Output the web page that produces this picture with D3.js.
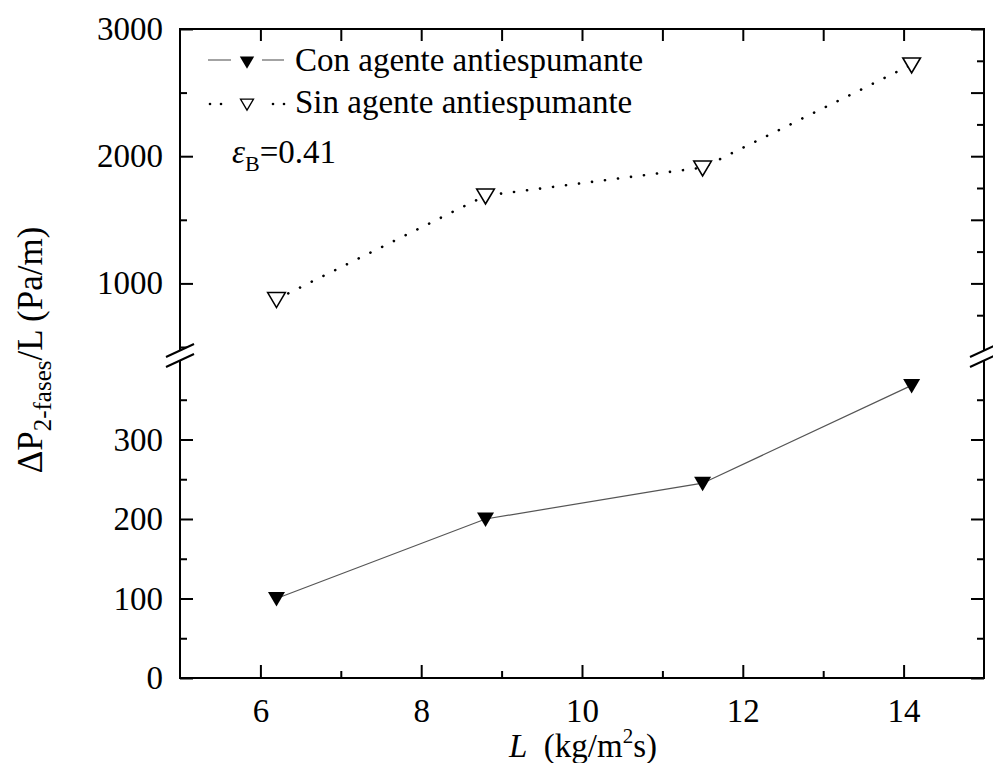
<!DOCTYPE html>
<html>
<head>
<meta charset="utf-8">
<script src="https://cdn.jsdelivr.net/npm/d3@7/dist/d3.min.js"></script>
<style>
  html, body { margin: 0; padding: 0; background: #fff; }
  svg text { font-family: "Liberation Serif", "Times New Roman", serif; fill: #000; }
</style>
</head>
<body>
<svg id="chart" width="993" height="763"></svg>
<script>
// ---- data ----
const xValues = [6.2, 8.8, 11.5, 14.1];
const conAgente = [100, 200, 245, 368];
const sinAgente = [876, 1690, 1910, 2720];
const seriesNames = ["Con agente antiespumante", "Sin agente antiespumante"];
const xTicks = [6, 8, 10, 12, 14];
const xMinorTicks = [7, 9, 11, 13];
const xTopTicks = [6, 7, 8, 9, 10, 11, 12, 13, 14];
const yLowTicks = [0, 100, 200, 300];
const yLowMinor = [50, 150, 250, 350];
const yHighTicks = [1000, 2000, 3000];
const yHighMinor = [500, 1500, 2500];
const yHighRightMajor = [1000, 1500, 2000, 2500, 3000];
const yHighRightMinor = [750, 1250, 1750, 2250, 2750];

const svg = d3.select("#chart");
const L = 180, R = 984, T = 29, B = 678;
const x = d3.scaleLinear().domain([5, 15]).range([L, R]);
const yLow = d3.scaleLinear().domain([0, 405]).range([B, 356]);
const yHigh = d3.scaleLinear().domain([500, 3000]).range([347, T]);
const FS = 33;

function noDomain(g) { g.select(".domain").remove(); }
function tickStyle(g) { g.selectAll(".tick line").attr("stroke", "#000").attr("stroke-width", 2); }
function serif(sel) { sel.style("font-family", "'Liberation Serif', 'Times New Roman', serif"); }

// frame
svg.append("rect").attr("x", L).attr("y", T).attr("width", R - L).attr("height", B - T)
  .attr("fill", "none").attr("stroke", "#000").attr("stroke-width", 2);

// bottom axis
const gB = svg.append("g").attr("transform", `translate(0,${B})`);
gB.call(d3.axisBottom(x).tickValues(xTicks).tickSize(-13).tickPadding(21).tickFormat(d3.format("d")))
  .call(noDomain).call(tickStyle);
gB.selectAll("text").attr("font-size", FS).call(serif);
svg.append("g").attr("transform", `translate(0,${B})`)
  .call(d3.axisBottom(x).tickValues(xMinorTicks).tickSize(-7).tickFormat(""))
  .call(noDomain).call(tickStyle);
// top axis
svg.append("g").attr("transform", `translate(0,${T})`)
  .call(d3.axisTop(x).tickValues(xTopTicks).tickSize(-12).tickFormat(""))
  .call(noDomain).call(tickStyle);

// left axis
function leftAxis(scale, major, minor) {
  const g = svg.append("g").attr("transform", `translate(${L},0)`);
  g.call(d3.axisLeft(scale).tickValues(major).tickSize(-13).tickPadding(17).tickFormat(d3.format("d")))
    .call(noDomain).call(tickStyle);
  g.selectAll("text").attr("font-size", FS).call(serif);
  svg.append("g").attr("transform", `translate(${L},0)`)
    .call(d3.axisLeft(scale).tickValues(minor).tickSize(-7).tickFormat(""))
    .call(noDomain).call(tickStyle);
}
leftAxis(yLow, yLowTicks, yLowMinor);
leftAxis(yHigh, yHighTicks, yHighMinor);

// right axis
function rightAxis(scale, major, minor) {
  svg.append("g").attr("transform", `translate(${R},0)`)
    .call(d3.axisRight(scale).tickValues(major).tickSize(-13).tickFormat(""))
    .call(noDomain).call(tickStyle);
  svg.append("g").attr("transform", `translate(${R},0)`)
    .call(d3.axisRight(scale).tickValues(minor).tickSize(-7).tickFormat(""))
    .call(noDomain).call(tickStyle);
}
rightAxis(yLow, yLowTicks, yLowMinor);
rightAxis(yHigh, yHighRightMajor, yHighRightMinor);

// axis breaks
[L, R].forEach(ax => {
  const g = svg.append("g");
  g.append("path").attr("d", `M${ax - 14},${357} L${ax + 14},${344} L${ax + 14},${354} L${ax - 14},${367} Z`)
    .attr("fill", "#fff").attr("stroke", "none");
  [0, 10].forEach(off => {
    g.append("line").attr("x1", ax - 14).attr("y1", 357 + off).attr("x2", ax + 14).attr("y2", 344 + off)
      .attr("stroke", "#000").attr("stroke-width", 2);
  });
});

// lines
const lineLow = d3.line().x((d, i) => x(xValues[i])).y(d => yLow(d));
const lineHigh = d3.line().x((d, i) => x(xValues[i])).y(d => yHigh(d));
svg.append("path").datum(conAgente).attr("d", lineLow)
  .attr("fill", "none").attr("stroke", "#555").attr("stroke-width", 1.2);
svg.append("path").datum(sinAgente).attr("d", lineHigh)
  .attr("fill", "none").attr("stroke", "#000").attr("stroke-width", 2.6)
  .attr("stroke-dasharray", "0.1 13").attr("stroke-linecap", "round");

// markers
const tri = (cx, cy, s) => `M${cx - s},${cy - s * 0.75} L${cx + s},${cy - s * 0.75} L${cx},${cy + s * 0.95} Z`;
svg.selectAll(".mCon").data(conAgente).enter().append("path")
  .attr("d", (d, i) => tri(x(xValues[i]), yLow(d), 8.5)).attr("fill", "#000");
svg.selectAll(".mSin").data(sinAgente).enter().append("path")
  .attr("d", (d, i) => tri(x(xValues[i]), yHigh(d), 8.8)).attr("fill", "#fff")
  .attr("stroke", "#000").attr("stroke-width", 1.6);

// legend
const lg = svg.append("g");
lg.append("line").attr("x1", 208).attr("x2", 231).attr("y1", 60).attr("y2", 60).attr("stroke", "#666").attr("stroke-width", 1.2);
lg.append("line").attr("x1", 262).attr("x2", 284).attr("y1", 60).attr("y2", 60).attr("stroke", "#666").attr("stroke-width", 1.2);
lg.append("path").attr("d", tri(247, 62, 7.2)).attr("fill", "#000");
lg.append("text").attr("x", 295).attr("y", 71).attr("font-size", FS).call(serif).text(seriesNames[0]);
[210, 221, 273, 284].forEach(cx => lg.append("circle").attr("cx", cx).attr("cy", 104).attr("r", 1.3).attr("fill", "#000"));
lg.append("path").attr("d", tri(247, 104, 6.5)).attr("fill", "#fff").attr("stroke", "#000").attr("stroke-width", 1.3);
lg.append("text").attr("x", 295).attr("y", 113).attr("font-size", FS).call(serif).text(seriesNames[1]);

// epsilon annotation
const eps = svg.append("text").attr("x", 232).attr("y", 163).attr("font-size", FS).call(serif);
eps.append("tspan").attr("font-style", "italic").text("ε");
eps.append("tspan").attr("font-size", 22).attr("dy", 8).text("B");
eps.append("tspan").attr("dy", -8).text("=0.41");

// x title
const xt = svg.append("text").attr("x", 583).attr("y", 757).attr("text-anchor", "middle").attr("font-size", FS).call(serif);
xt.append("tspan").attr("font-style", "italic").text("L");
xt.append("tspan").text("\u00a0 (kg/m");
xt.append("tspan").attr("font-size", 21).attr("dy", -14).text("2");
xt.append("tspan").attr("dy", 14).text("s)");

// y title
const yt = svg.append("text").attr("transform", "translate(42,350) rotate(-90)")
  .attr("text-anchor", "middle").attr("font-size", 35).call(serif);
yt.append("tspan").text("ΔP");
yt.append("tspan").attr("font-size", 25).attr("dy", 9).text("2-fases");
yt.append("tspan").attr("dy", -9).text("/L (Pa/m)");
</script>
</body>
</html>
